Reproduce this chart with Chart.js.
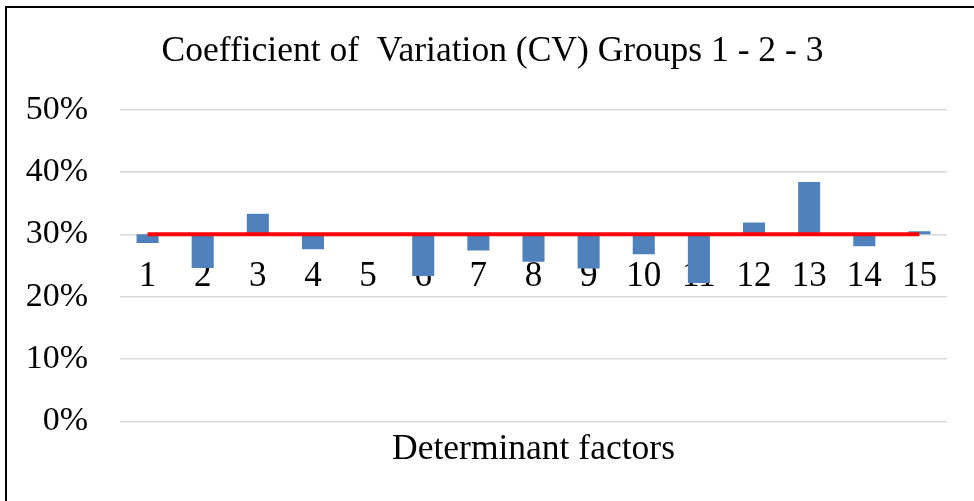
<!DOCTYPE html>
<html>
<head>
<meta charset="utf-8">
<script src="https://cdn.jsdelivr.net/npm/chart.js@4.4.1/dist/chart.umd.min.js"></script>
<style>
  html, body { margin: 0; padding: 0; background: #fff; overflow: hidden; }
  #wrap { position: relative; width: 974px; height: 501px; }
  #frame { position: absolute; left: 5px; top: 6px; width: 1200px; height: 800px;
           border-left: 2px solid #000; border-top: 2px solid #000; pointer-events: none; }
</style>
</head>
<body>
<div id="wrap">
  <canvas id="c" width="974" height="501"></canvas>
  <div id="frame"></div>
</div>
<script>
const chartTitle = 'Coefficient of  Variation (CV) Groups 1 - 2 - 3';
const axisTitle = 'Determinant factors';
const categories = ['1','2','3','4','5','6','7','8','9','10','11','12','13','14','15'];
const cvValues = [0.286, 0.246, 0.333, 0.276, 0.300, 0.233, 0.274, 0.256, 0.245, 0.268, 0.222, 0.319, 0.384, 0.281, 0.305];
const thresholdLine = [0.30, 0.30, 0.30, 0.30, 0.30, 0.30, 0.30, 0.30, 0.30, 0.30, 0.30, 0.30, 0.30, 0.30, 0.30];
const axisCross = 0.30;
const yTicks = [0, 0.1, 0.2, 0.3, 0.4, 0.5];

const FONT = "'Liberation Serif', 'Times New Roman', serif";

// nudge the chart title horizontally to match the reference centring
const titleShift = {
  id: 'titleShift',
  afterLayout(chart) {
    const t = chart.titleBlock;
    if (t) { t.left += 7; t.right += 7; }
  }
};

new Chart(document.getElementById('c'), {
  type: 'bar',
  data: {
    labels: categories,
    datasets: [
      {
        type: 'line',
        data: thresholdLine,
        borderColor: '#ff0000',
        borderWidth: 4,
        pointRadius: 0,
        fill: false,
        tension: 0,
        order: 0,
        xAxisID: 'x',
        yAxisID: 'y'
      },
      {
        type: 'bar',
        data: cvValues.map(v => [axisCross, v]),
        backgroundColor: '#4f81bd',
        borderWidth: 0,
        barPercentage: 0.4,
        categoryPercentage: 1.0,
        order: 1,
        xAxisID: 'x',
        yAxisID: 'y'
      }
    ]
  },
  plugins: [titleShift],
  options: {
    responsive: false,
    animation: false,
    devicePixelRatio: 1,
    layout: { padding: { left: 24, right: 27, top: 0, bottom: 30 } },
    plugins: {
      legend: { display: false },
      tooltip: { enabled: false },
      title: {
        display: true,
        text: chartTitle,
        color: '#000',
        font: { family: FONT, size: 35.5, weight: 'normal' },
        padding: { top: 30, bottom: 37 }
      }
    },
    scales: {
      x: {
        type: 'category',
        position: { y: axisCross },
        grid: { display: false, drawTicks: false },
        border: { display: false },
        ticks: {
          color: '#000',
          font: { family: FONT, size: 35 },
          padding: 21,
          maxRotation: 0,
          autoSkip: false
        }
      },
      xb: {
        type: 'category',
        position: 'bottom',
        labels: categories,
        grid: { display: false, drawTicks: false },
        border: { display: false },
        ticks: { display: false },
        title: {
          display: true,
          text: axisTitle,
          color: '#000',
          font: { family: FONT, size: 35.5 },
          padding: { top: 7, bottom: 0 }
        }
      },
      y: {
        min: 0,
        max: 0.5,
        afterBuildTicks: (scale) => { scale.ticks = yTicks.map(v => ({ value: v })); },
        afterFit: (scale) => { scale.width = 96; },
        grid: { color: '#d9d9d9', lineWidth: 1.5, drawTicks: false },
        border: { display: false },
        ticks: {
          color: '#000',
          font: { family: FONT, size: 34 },
          padding: 32,
          callback: (v) => Math.round(v * 100) + '%'
        }
      }
    }
  }
});
</script>
</body>
</html>
